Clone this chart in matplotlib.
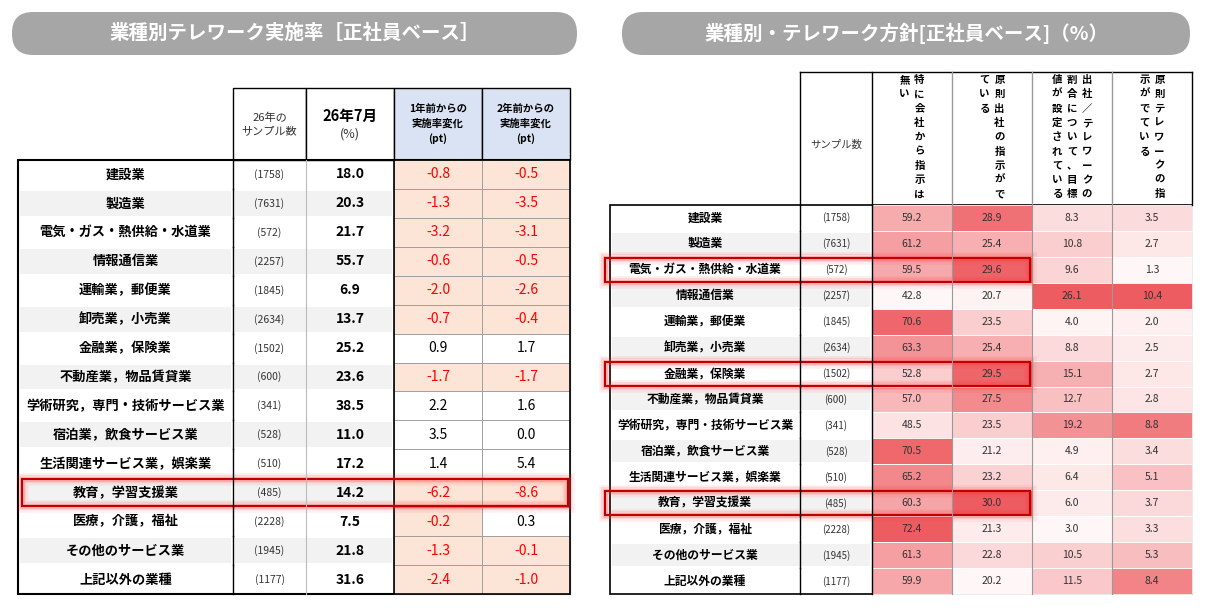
import matplotlib
matplotlib.use("Agg")
import matplotlib.pyplot as plt
from matplotlib.patches import Rectangle, FancyBboxPatch
import numpy as np

plt.rcParams['font.family'] = ['Noto Sans CJK JP', 'DejaVu Sans']

industries = ["建設業", "製造業", "電気・ガス・熱供給・水道業", "情報通信業", "運輸業，郵便業", "卸売業，小売業",
              "金融業，保険業", "不動産業，物品賃貸業", "学術研究，専門・技術サービス業", "宿泊業，飲食サービス業",
              "生活関連サービス業，娯楽業", "教育，学習支援業", "医療，介護，福祉", "その他のサービス業", "上記以外の業種"]
samples = [1758, 7631, 572, 2257, 1845, 2634, 1502, 600, 341, 528, 510, 485, 2228, 1945, 1177]
rate = [18.0, 20.3, 21.7, 55.7, 6.9, 13.7, 25.2, 23.6, 38.5, 11.0, 17.2, 14.2, 7.5, 21.8, 31.6]
chg1 = [-0.8, -1.3, -3.2, -0.6, -2.0, -0.7, 0.9, -1.7, 2.2, 3.5, 1.4, -6.2, -0.2, -1.3, -2.4]
chg2 = [-0.5, -3.5, -3.1, -0.5, -2.6, -0.4, 1.7, -1.7, 1.6, 0.0, 5.4, -8.6, 0.3, -0.1, -1.0]

pol_none = [59.2, 61.2, 59.5, 42.8, 70.6, 63.3, 52.8, 57.0, 48.5, 70.5, 65.2, 60.3, 72.4, 61.3, 59.9]
pol_office = [28.9, 25.4, 29.6, 20.7, 23.5, 25.4, 29.5, 27.5, 23.5, 21.2, 23.2, 30.0, 21.3, 22.8, 20.2]
pol_target = [8.3, 10.8, 9.6, 26.1, 4.0, 8.8, 15.1, 12.7, 19.2, 4.9, 6.4, 6.0, 3.0, 10.5, 11.5]
pol_tele = [3.5, 2.7, 1.3, 10.4, 2.0, 2.5, 2.7, 2.8, 8.8, 3.4, 5.1, 3.7, 3.3, 5.3, 8.4]
pol_headers = [["特に会社から指示は", "無い"], ["原則出社の指示がで", "ている"],
               ["出社／テレワークの", "割合について、目標", "値が設定されている"], ["原則テレワークの指", "示がでている"]]
hl_left = [11]
hl_right = [2, 6, 11]

fig = plt.figure(figsize=(12.1, 6.1), dpi=100)
ax = fig.add_axes([0, 0, 1, 1])
ax.set_xlim(0, 1210); ax.set_ylim(610, 0); ax.axis('off')

def pill(x0, x1, y0, y1, text):
    ax.add_patch(FancyBboxPatch((x0, y0), x1 - x0, y1 - y0,
                                boxstyle="round,pad=0,rounding_size=21", fc="#a6a6a6", ec="none"))
    ax.text((x0 + x1) / 2, (y0 + y1) / 2, text, color="white", fontsize=14, ha="center", va="center", fontweight="bold")

def cell(x0, x1, y0, y1, fc="white", lw=1.0, ec="black"):
    ax.add_patch(Rectangle((x0, y0), x1 - x0, y1 - y0, fc=fc, ec=ec, lw=lw))

def glow(x0, x1, y0, y1):
    for w, a in [(9, 0.08), (6, 0.12), (3.5, 0.2)]:
        ax.add_patch(Rectangle((x0, y0), x1 - x0, y1 - y0, fc="none", ec="#ff3030", lw=w, alpha=a))
    ax.add_patch(Rectangle((x0, y0), x1 - x0, y1 - y0, fc="none", ec="#c00000", lw=1.5))

# ---------- Left table ----------
pill(12, 577, 12, 55, "業種別テレワーク実施率［正社員ベース］")
cx = [18, 233, 306, 394, 482, 570]
hy0, hy1 = 88, 160
rh = (594 - 160) / 15
cell(cx[1], cx[2], hy0, hy1)
ax.text((cx[1] + cx[2]) / 2, 124, "26年の\nサンプル数", fontsize=8, ha="center", va="center", color="#333", linespacing=1.4)
cell(cx[2], cx[3], hy0, hy1)
ax.text((cx[2] + cx[3]) / 2, 116, "26年7月", fontsize=10.5, ha="center", va="center", fontweight="bold")
ax.text((cx[2] + cx[3]) / 2, 134, "(%)", fontsize=9, ha="center", va="center", color="#333")
for i, t in enumerate(["1年前からの\n実施率変化\n(pt)", "2年前からの\n実施率変化\n(pt)"]):
    cell(cx[3 + i], cx[4 + i], hy0, hy1, fc="#dae3f3")
    ax.text((cx[3 + i] + cx[4 + i]) / 2, 124, t, fontsize=7.5, ha="center", va="center", fontweight="bold", linespacing=1.5)
ax.add_patch(Rectangle((cx[0], 160), cx[5] - cx[0], 434, fc="none", ec="black", lw=1.5))
for r in range(15):
    y0 = 160 + r * rh; y1 = y0 + rh; yc = (y0 + y1) / 2
    bg = "#f2f2f2" if r % 2 == 1 else "white"
    ax.add_patch(Rectangle((cx[0] + 2, y0 + 2), cx[1] - cx[0] - 4, rh - 4, fc=bg, ec="none"))
    ax.add_patch(Rectangle((cx[1] + 2, y0 + 2), cx[3] - cx[1] - 4, rh - 4, fc=bg, ec="none"))
    ax.plot([cx[1], cx[1]], [y0, y1], color="black", lw=1)
    ax.plot([cx[2], cx[2]], [y0, y1], color="#bbb", lw=0.8)
    ax.text((cx[0] + cx[1]) / 2, yc, industries[r], fontsize=9.5, ha="center", va="center", fontweight="bold")
    ax.text((cx[1] + cx[2]) / 2, yc, f"({samples[r]})", fontsize=7.5, ha="center", va="center", color="#333")
    ax.text((cx[2] + cx[3]) / 2, yc, f"{rate[r]:.1f}", fontsize=10, ha="center", va="center", fontweight="bold")
    for j, v in enumerate([chg1[r], chg2[r]]):
        neg = v < 0
        cell(cx[3 + j], cx[4 + j], y0, y1, fc="#fce4d6" if neg else "white", lw=0.6, ec="#999")
        ax.text((cx[3 + j] + cx[4 + j]) / 2, yc, f"{v:.1f}", fontsize=10, ha="center", va="center",
                color="#ff0000" if neg else "black")
ax.add_patch(Rectangle((cx[3], 160), cx[5] - cx[3], 434, fc="none", ec="black", lw=1.2))
for r in hl_left:
    glow(22, 568, 160 + r * rh + 1, 160 + (r + 1) * rh - 1)

# ---------- Right table ----------
pill(622, 1190, 12, 55, "業種別・テレワーク方針[正社員ベース]（%）")
rx = [610, 800, 872, 952, 1032, 1112, 1192]
ry0, ry1 = 72, 205
rrh = (594 - 205) / 15
ax.plot([rx[1], rx[6]], [ry0, ry0], color="black", lw=1)
for x in rx[1:]:
    ax.plot([x, x], [ry0, ry1], color="black" if x in (rx[1], rx[2], rx[6]) else "#999", lw=1)
ax.text((rx[1] + rx[2]) / 2, 145, "サンプル数", fontsize=7.5, ha="center", va="center", color="#333")
for k, cols in enumerate(pol_headers):
    xc = (rx[2 + k] + rx[3 + k]) / 2
    n = len(cols)
    dx = 15
    for ci, s in enumerate(cols):
        xx = xc + (n - 1) / 2 * dx - ci * dx
        for ch_i, ch in enumerate(s):
            ax.text(xx, 80 + ch_i * 14.3, ch, fontsize=7.5, ha="center", va="center", fontweight="bold")
ax.add_patch(Rectangle((rx[0], ry1), rx[6] - rx[0], 594 - ry1, fc="none", ec="black", lw=1.2))
pol = [pol_none, pol_office, pol_target, pol_tele]
c_hi = np.array([0.93, 0.36, 0.38])
for r in range(15):
    y0 = ry1 + r * rrh; y1 = y0 + rrh; yc = (y0 + y1) / 2
    bg = "#f2f2f2" if r % 2 == 1 else "white"
    ax.add_patch(Rectangle((rx[0] + 2, y0 + 2), rx[2] - rx[0] - 4, rrh - 4, fc=bg, ec="none"))
    ax.plot([rx[1], rx[1]], [y0, y1], color="black", lw=1)
    ax.text((rx[0] + rx[1]) / 2, yc, industries[r], fontsize=8.5, ha="center", va="center", fontweight="bold")
    ax.text((rx[1] + rx[2]) / 2, yc, f"({samples[r]})", fontsize=7, ha="center", va="center", color="#333")
    for k in range(4):
        vals = np.array(pol[k]); v = vals[r]
        t = (v - vals.min()) / (vals.max() - vals.min())
        t = t ** 1.2
        col = (1 - t) * np.array([1, 0.97, 0.97]) + t * c_hi
        ax.add_patch(Rectangle((rx[2 + k], y0), rx[3 + k] - rx[2 + k], rrh, fc=tuple(col), ec="white", lw=0.6))
        ax.text((rx[2 + k] + rx[3 + k]) / 2, yc, f"{v:.1f}", fontsize=7.5, ha="center", va="center", color="#333")
for x in rx[3:6]:
    ax.plot([x, x], [ry1, 594], color="#999", lw=0.8)
ax.plot([rx[2], rx[2]], [ry1, 594], color="black", lw=1)
for r in hl_right:
    glow(605, 1030, ry1 + r * rrh + 1, ry1 + (r + 1) * rrh - 1)

fig.savefig("out.png", dpi=100)
